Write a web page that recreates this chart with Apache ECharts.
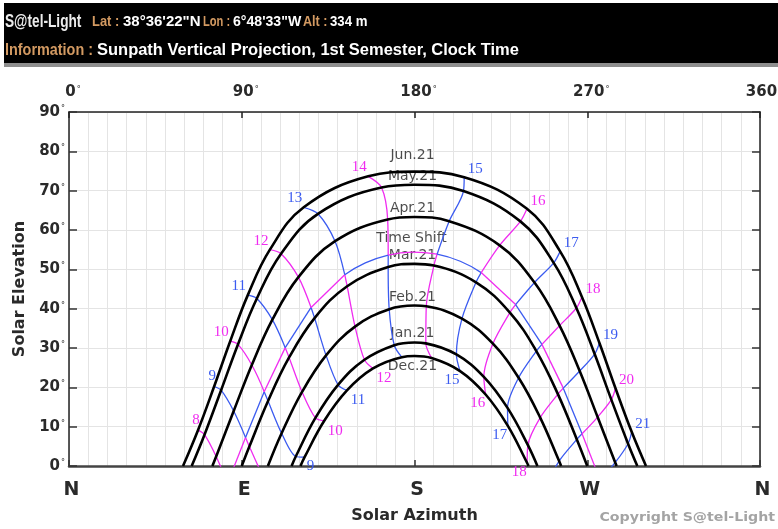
<!DOCTYPE html>
<html>
<head>
<meta charset="utf-8">
<script src="https://cdn.jsdelivr.net/npm/echarts@6/dist/echarts.min.js"></script>
<style>
  html, body { margin: 0; padding: 0; background: #ffffff; }
  #chart { width: 778px; height: 529px; }
</style>
</head>
<body>
<div id="chart"></div>
<script>
// Sun positions [azimuth°, elevation°] at whole UTC hours; index 0 = 06 UTC.
const jun21 = [[67.20,9.10],[75.61,20.21],[83.99,31.73],[93.15,43.44],[104.66,55.00],[122.28,65.78],[155.87,73.64],[205.88,73.44],[238.60,65.39],[255.87,54.57],[267.23,42.98],[276.35,31.28],[284.71,19.77],[293.14,8.69]];
const may21 = [[70.59,7.96],[79.24,19.27],[88.02,30.91],[97.87,42.60],[110.48,53.96],[129.72,64.12],[162.83,70.80],[205.51,69.91],[235.17,62.19],[252.52,51.65],[264.34,40.17],[273.86,28.47],[282.55,16.88],[291.26,5.67]];
const apr21 = [[76.67,2.41],[85.80,13.98],[95.24,25.69],[105.95,37.20],[119.52,48.01],[138.60,57.15],[166.02,62.67],[198.07,62.24],[224.36,56.10],[242.52,46.65],[255.59,35.70],[266.06,24.14],[275.40,12.44],[284.56,0.90]];
const timeShift = [[82.59,-4.42],[91.97,7.27],[101.69,18.90],[112.66,30.09],[126.12,40.31],[143.66,48.64],[166.30,53.64],[191.76,53.84],[214.76,49.17],[232.68,41.04],[246.40,30.93],[257.52,19.79],[267.29,8.19],[276.67,-3.52],[286.45,-14.99]];
const mar21 = [null,[93.97,4.95],[103.70,16.52],[114.66,27.59],[127.95,37.61],[144.92,45.71],[166.28,50.58],[190.10,50.96],[212.05,46.71],[229.69,39.01],[243.48,29.22],[254.71,18.27],[264.57,6.76],[273.97,-4.95]];
const feb21 = [null,[101.23,-2.94],[110.77,8.32],[121.41,18.84],[133.92,28.13],[149.01,35.44],[166.82,39.87],[186.14,40.60],[204.73,37.46],[220.85,31.09],[234.24,22.43],[245.48,12.30],[255.34,1.26],[264.57,-10.27]];
const jan21 = [null,[109.00,-8.32],[118.14,2.42],[128.37,12.22],[140.17,20.62],[153.92,27.00],[169.46,30.70],[185.90,31.18],[201.82,28.36],[216.12,22.67],[228.46,14.77],[239.08,5.32],[248.47,-5.19],[257.21,-16.38]];
const dec21 = [null,[113.62,-8.09],[122.73,2.24],[132.98,11.49],[144.81,19.21],[158.38,24.80],[173.39,27.67],[188.91,27.43],[203.75,24.13],[217.06,18.18],[228.64,10.20],[238.69,0.76],[247.67,-9.70]];

// Time-shift day positions at the half hours around noon (UTC 11:30, 12:30, 13:30)
const timeShiftHalfHours = [11.5, 12.5, 13.5];
const timeShiftNoonArc = [[154.37,51.66],[179.00,54.39],[203.84,52.05]];

// Day curves, top to bottom: Jun, May, Apr, Mar, Feb, Jan, Dec
const dateNames = ['Jun.21','May.21','Apr.21','Mar.21','Feb.21','Jan.21','Dec.21'];
const sunriseAz = [59.40, 63.91, 74.70, 90.00, 103.62, 115.96, 120.60];
const sunsetAz = [300.60, 296.09, 285.30, 270.00, 256.38, 244.04, 239.40];
const noonAlt = [74.83, 71.49, 63.29, 51.39, 40.79, 31.39, 27.95];
const timeShiftName = 'Time Shift';

// Clock hours (summer time CEST above the time-shift day, CET below it)
const clockHours = [8,9,10,11,12,13,14,15,16,17,18,19,20,21];
const bottomLabelHours = [9,10,11,12,15,16,17,18];

const compassLabels = ['N','E','S','W','N'];
const elevationTicks = [0,10,20,30,40,50,60,70,80,90];

// ---------------------------------------------------------------------------
const FIRST_UTC = 6;
const at = (arr, utc) => arr[utc - FIRST_UTC] || null;
const BLUE = '#3b5bf0';
const MAGENTA = '#f02cf0';
const sans = '"DejaVu Sans", "Noto Sans", sans-serif';

// walk through the dates at one UTC hour, stopping once the sun is below the horizon
function walk(dates, utc) {
  const pts = [];
  for (const d of dates) {
    const p = at(d, utc);
    if (!p) break;
    pts.push(p);
    if (p[1] < 0) break;
  }
  return pts;
}

function topOffset(h) {
  if (h <= 9) return [-2, -10];
  if (h <= 14) return [-9, -9];
  return [11, -8];
}
function bottomOffset(h) {
  if (h === 9) return [6, 9];
  if (h <= 12) return [11, 10];
  return [-8, 9];
}

const series = [];

clockHours.forEach(h => {
  const color = h % 2 ? BLUE : MAGENTA;
  const lineBase = {
    type: 'line', symbol: 'none', silent: true, clip: true, z: 2,
    lineStyle: { color: color, width: 1.3 }
  };
  const hourLabel = (offset) => ({
    show: true, position: 'inside', offset: offset, formatter: String(h),
    color: color, fontFamily: '"Liberation Serif", "DejaVu Serif", serif', fontSize: 15
  });

  // summer-time branch: Jun 21 -> time-shift day
  const summer = walk([jun21, may21, apr21, timeShift], h - 2);
  series.push(Object.assign({}, lineBase, {
    data: summer, smooth: 0.3,
    markPoint: {
      symbol: 'circle', symbolSize: 0, silent: true,
      data: [{ coord: summer[0] }],
      label: hourLabel(topOffset(h))
    }
  }));

  // jump along the time-shift day from summer to winter clock
  const a = at(timeShift, h - 2), b = at(timeShift, h - 1);
  if (a[1] > 0 || b[1] > 0) {
    const k = timeShiftHalfHours.indexOf(h - 1.5);
    series.push(Object.assign({}, lineBase, {
      data: k >= 0 ? [a, timeShiftNoonArc[k], b] : [a, b], smooth: 0.5
    }));
  }

  // winter-time branch: time-shift day -> Dec 21
  if (b[1] > 0) {
    const winter = walk([timeShift, mar21, feb21, jan21, dec21], h - 1);
    const s = Object.assign({}, lineBase, { data: winter, smooth: 0.3 });
    if (bottomLabelHours.includes(h)) {
      s.markPoint = {
        symbol: 'circle', symbolSize: 0, silent: true,
        data: [{ coord: winter[winter.length - 1] }],
        label: hourLabel(bottomOffset(h))
      };
    }
    series.push(s);
  }
});

// day curves from sunrise to sunset
[jun21, may21, apr21, mar21, feb21, jan21, dec21].forEach((day, i) => {
  const pts = [[sunriseAz[i], 0]];
  let noonDone = false;
  day.forEach(p => {
    if (!p || p[1] <= 0) return;
    if (!noonDone && p[0] > 180) { pts.push([180, noonAlt[i]]); noonDone = true; }
    pts.push(p);
  });
  pts.push([sunsetAz[i], 0]);
  series.push({
    type: 'line', name: dateNames[i], symbol: 'none', silent: true, clip: true, z: 3,
    smooth: 0.4, data: pts,
    lineStyle: { color: '#000000', width: 2.6 }
  });
});

// day-curve captions above the noon points
const captionDy = [-16, -8, -9, -9, -8.5, -9.5, 10];
const captionData = dateNames.map((n, i) => ({
  value: [180, noonAlt[i]], name: n,
  label: { offset: [-2, captionDy[i]] }
}));
captionData.push({ value: timeShiftNoonArc[1], name: timeShiftName, label: { offset: [-1, -14] } });
series.push({
  type: 'scatter', symbolSize: 0, silent: true, z: 1, data: captionData,
  label: {
    show: true, position: 'inside', formatter: p => p.name,
    color: '#1e1e1e', fontFamily: sans, fontSize: 14
  }
});

const degLabel = {
  n: { fontFamily: sans, fontWeight: 'bold', fontSize: 15, color: '#2a2a2a' },
  d: { fontFamily: sans, fontSize: 8, color: '#2a2a2a', padding: [0, 0, 6, 1] }
};

const TAN = '#d39a62';
const header = [
  { x: 5, y: 22, text: 'S@tel-Light', fill: '#ececec', size: 19, sx: 0.72 },
  { x: 92, y: 22, text: 'Lat :', fill: TAN, size: 15, sx: 0.86 },
  { x: 123, y: 22, text: '38°36\'22"N', fill: '#ffffff', size: 15, sx: 1.0 },
  { x: 203, y: 22, text: 'Lon :', fill: TAN, size: 15, sx: 0.74 },
  { x: 233, y: 22, text: '6°48\'33"W', fill: '#ffffff', size: 15, sx: 0.94 },
  { x: 303, y: 22, text: 'Alt :', fill: TAN, size: 15, sx: 0.84 },
  { x: 330, y: 22, text: '334 m', fill: '#ffffff', size: 15, sx: 0.88 },
  { x: 5, y: 51, text: 'Information :', fill: TAN, size: 16, sx: 0.9 },
  { x: 97, y: 51, text: 'Sunpath Vertical Projection, 1st Semester, Clock Time', fill: '#ffffff', size: 16, sx: 1.03 }
];

const graphic = [
  { type: 'rect', shape: { x: 4, y: 3, width: 774, height: 61 }, style: { fill: '#000000' }, silent: true },
  { type: 'rect', shape: { x: 4, y: 63, width: 774, height: 4 }, style: { fill: '#8e8e8e' }, silent: true }
].concat(header.map(t => ({
  type: 'text', x: t.x, y: t.y, scaleX: t.sx, silent: true,
  style: {
    text: t.text, fill: t.fill, font: 'bold ' + t.size + 'px "Liberation Sans", Arial, sans-serif',
    align: 'left', verticalAlign: 'middle'
  }
}))).concat([{
  type: 'text', x: 775, y: 518, scaleX: 1.18, silent: true,
  style: {
    text: 'Copyright S@tel-Light', fill: '#a4a4a4', font: 'bold 12px ' + sans,
    align: 'right', verticalAlign: 'middle'
  }
}]);

const chart = echarts.init(document.getElementById('chart'), null, { renderer: 'canvas' });
chart.setOption({
  backgroundColor: '#ffffff',
  animation: false,
  grid: { left: 69, top: 112, width: 691, height: 354, containLabel: false, outerBoundsMode: 'none' },
  xAxis: [
    {
      type: 'value', position: 'bottom', min: 0, max: 360, interval: 90,
      axisLine: { show: true, onZero: false, lineStyle: { color: '#444444', width: 2.5 } },
      axisTick: { show: true, inside: true, length: 6, lineStyle: { color: '#333333', width: 1.5 } },
      axisLabel: {
        formatter: v => compassLabels[Math.round(v / 90)], margin: 15,
        fontFamily: sans, fontWeight: 'bold', fontSize: 19, color: '#2a2a2a', padding: [0, 0, 0, 5]
      },
      splitLine: { show: true, lineStyle: { color: '#e4e4e4', width: 1 } },
      minorTick: { show: false, splitNumber: 9 },
      minorSplitLine: { show: true, lineStyle: { color: '#e4e4e4', width: 1 } },
      name: 'Solar Azimuth', nameLocation: 'middle', nameGap: 42,
      nameTextStyle: { fontFamily: sans, fontWeight: 'bold', fontSize: 16, color: '#2a2a2a' }
    },
    {
      type: 'value', position: 'top', min: 0, max: 360, interval: 90,
      axisLine: { show: true, onZero: false, lineStyle: { color: '#222222', width: 1.5 } },
      axisTick: { show: true, inside: true, length: 6, lineStyle: { color: '#222222', width: 1.5 } },
      axisLabel: {
        formatter: v => '{n|' + v + '}{d|°}', rich: degLabel, margin: 12, padding: [0, 0, 0, 8]
      },
      splitLine: { show: false }
    }
  ],
  yAxis: [
    {
      type: 'value', position: 'left', min: elevationTicks[0], max: elevationTicks[elevationTicks.length - 1], interval: 10,
      axisLine: { show: true, onZero: false, lineStyle: { color: '#222222', width: 1.5 } },
      axisTick: { show: true, inside: true, length: 8, lineStyle: { color: '#333333', width: 1.5 } },
      axisLabel: { formatter: v => '{n|' + v + '}{d|°}', rich: degLabel, margin: 4 },
      splitLine: { show: true, lineStyle: { color: '#e4e4e4', width: 1 } },
      name: 'Solar Elevation', nameLocation: 'middle', nameRotate: 90, nameGap: 39,
      nameTextStyle: { fontFamily: sans, fontWeight: 'bold', fontSize: 16, color: '#2a2a2a' }
    },
    {
      type: 'value', position: 'right', min: 0, max: 90, interval: 10,
      axisLine: { show: true, onZero: false, lineStyle: { color: '#222222', width: 1.5 } },
      axisTick: { show: true, inside: true, length: 8, lineStyle: { color: '#333333', width: 1.5 } },
      axisLabel: { show: false },
      splitLine: { show: false }
    }
  ],
  graphic: graphic,
  series: series
});
</script>
</body>
</html>
